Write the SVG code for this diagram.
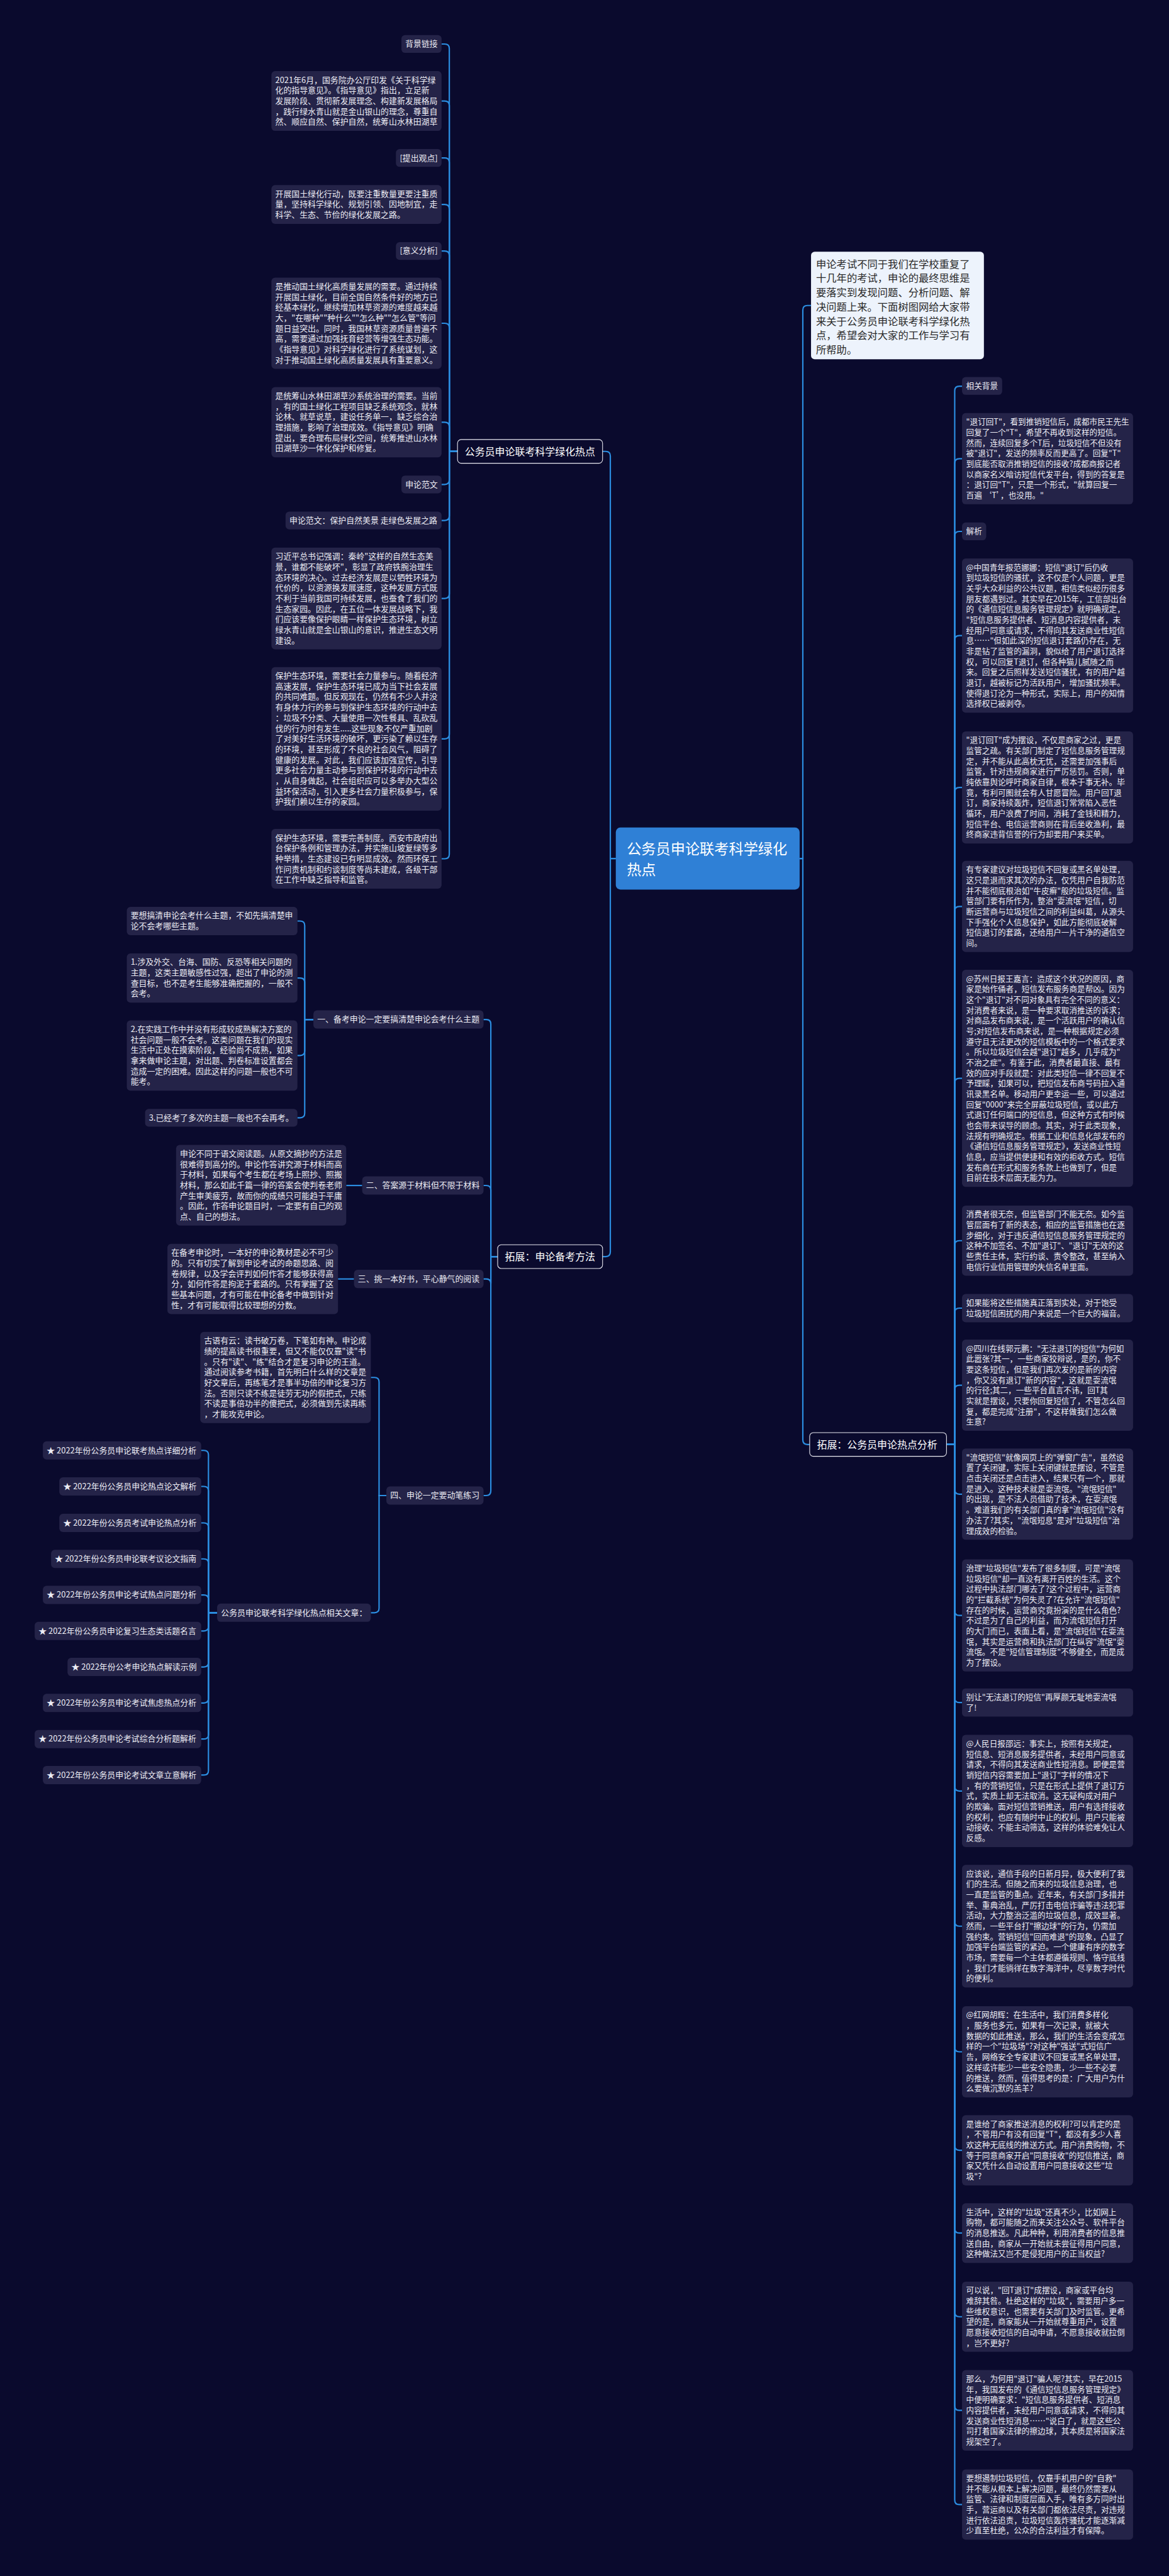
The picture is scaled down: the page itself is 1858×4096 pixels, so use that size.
<svg xmlns="http://www.w3.org/2000/svg" width="1858" height="4096" viewBox="0 0 1858 4096">
<style>
.bg{fill:#0a0a2d}
.bx{fill:#242348}
.t{font-family:"Noto Sans CJK SC","Liberation Sans",sans-serif;font-size:17.8px;fill:#ececf4}
.tr{font-family:"Noto Sans CJK SC","Liberation Sans",sans-serif;font-size:17.4px;fill:#ececf4}
.l1{fill:#0a0a2d;stroke:#e8e8f0;stroke-width:1.5}
.t1{font-family:"Noto Sans CJK SC","Liberation Sans",sans-serif;font-size:22px;fill:#ffffff}
.root{fill:#2f80d6}
.tt{font-family:"Noto Sans CJK SC","Liberation Sans",sans-serif;font-size:32px;fill:#ffffff}
.intro{fill:#edf3fc}
.ti{font-family:"Noto Sans CJK SC","Liberation Sans",sans-serif;font-size:22.5px;fill:#2a2a2a}
.ln{fill:none;stroke:#2b8de0;stroke-width:3}
</style>
<rect class="bg" x="0" y="0" width="1858" height="4096"/>
<g transform="scale(0.725)">
<g id="connectors">
<path class="ln" d="M1350 1883 H1338 V1000 Q1338 990 1328 990 H1321"/>
<path class="ln" d="M1350 1883 H1338 V2746 Q1338 2756 1328 2756 H1321"/>
<path class="ln" d="M1753 1883 H1760 V680 Q1760 670 1770 670 H1778"/>
<path class="ln" d="M1753 1883 H1760 V3158 Q1760 3168 1770 3168 H1775"/>
<path class="ln" d="M1003 990 H985 V106.5 Q985 96.5 975 96.5 H968"/>
<path class="ln" d="M1003 990 H985 V231.5 Q985 221.5 975 221.5 H968"/>
<path class="ln" d="M1003 990 H985 V356.5 Q985 346.5 975 346.5 H968"/>
<path class="ln" d="M1003 990 H985 V458.5 Q985 448.5 975 448.5 H968"/>
<path class="ln" d="M1003 990 H985 V560.5 Q985 550.5 975 550.5 H968"/>
<path class="ln" d="M1003 990 H985 V719 Q985 709 975 709 H968"/>
<path class="ln" d="M1003 990 H985 V936 Q985 926 975 926 H968"/>
<path class="ln" d="M1003 990 H985 V1052.5 Q985 1062.5 975 1062.5 H968"/>
<path class="ln" d="M1003 990 H985 V1131.5 Q985 1141.5 975 1141.5 H968"/>
<path class="ln" d="M1003 990 H985 V1302.5 Q985 1312.5 975 1312.5 H968"/>
<path class="ln" d="M1003 990 H985 V1610.5 Q985 1620.5 975 1620.5 H968"/>
<path class="ln" d="M1003 990 H985 V1873.5 Q985 1883.5 975 1883.5 H968"/>
<path class="ln" d="M1091 2756 H1076 V2246 Q1076 2236 1066 2236 H1060"/>
<path class="ln" d="M1091 2756 H1076 V2610 Q1076 2600 1066 2600 H1060"/>
<path class="ln" d="M1091 2756 H1076 V2815 Q1076 2805 1066 2805 H1060"/>
<path class="ln" d="M1091 2756 H1076 V3270 Q1076 3280 1066 3280 H1060"/>
<path class="ln" d="M687 2236 H668 V2030 Q668 2020 658 2020 H652"/>
<path class="ln" d="M687 2236 H668 V2155 Q668 2145 658 2145 H652"/>
<path class="ln" d="M687 2236 H668 V2305 Q668 2315 658 2315 H652"/>
<path class="ln" d="M687 2236 H668 V2441.5 Q668 2451.5 658 2451.5 H652"/>
<path class="ln" d="M794 2600 H759"/>
<path class="ln" d="M776 2805 H741"/>
<path class="ln" d="M847 3280 H831 V3031 Q831 3021 821 3021 H813"/>
<path class="ln" d="M847 3280 H831 V3527 Q831 3537 821 3537 H813"/>
<path class="ln" d="M476 3537 H457 V3191 Q457 3181 447 3181 H441"/>
<path class="ln" d="M476 3537 H457 V3270 Q457 3260 447 3260 H441"/>
<path class="ln" d="M476 3537 H457 V3350 Q457 3340 447 3340 H441"/>
<path class="ln" d="M476 3537 H457 V3429 Q457 3419 447 3419 H441"/>
<path class="ln" d="M476 3537 H457 V3508 Q457 3498 447 3498 H441"/>
<path class="ln" d="M476 3537 H457 V3567 Q457 3577 447 3577 H441"/>
<path class="ln" d="M476 3537 H457 V3646 Q457 3656 447 3656 H441"/>
<path class="ln" d="M476 3537 H457 V3725 Q457 3735 447 3735 H441"/>
<path class="ln" d="M476 3537 H457 V3804 Q457 3814 447 3814 H441"/>
<path class="ln" d="M476 3537 H457 V3883 Q457 3893 447 3893 H441"/>
<path class="ln" d="M2075 3168 H2093 V857 Q2093 847 2103 847 H2109"/>
<path class="ln" d="M2075 3168 H2093 V1016 Q2093 1006 2103 1006 H2109"/>
<path class="ln" d="M2075 3168 H2093 V1175.5 Q2093 1165.5 2103 1165.5 H2109"/>
<path class="ln" d="M2075 3168 H2093 V1404 Q2093 1394 2103 1394 H2109"/>
<path class="ln" d="M2075 3168 H2093 V1737 Q2093 1727 2103 1727 H2109"/>
<path class="ln" d="M2075 3168 H2093 V1998 Q2093 1988 2103 1988 H2109"/>
<path class="ln" d="M2075 3168 H2093 V2375 Q2093 2365 2103 2365 H2109"/>
<path class="ln" d="M2075 3168 H2093 V2731 Q2093 2721 2103 2721 H2109"/>
<path class="ln" d="M2075 3168 H2093 V2879 Q2093 2869 2103 2869 H2109"/>
<path class="ln" d="M2075 3168 H2093 V3048 Q2093 3038 2103 3038 H2109"/>
<path class="ln" d="M2075 3168 H2093 V3267 Q2093 3277 2103 3277 H2109"/>
<path class="ln" d="M2075 3168 H2093 V3533 Q2093 3543 2103 3543 H2109"/>
<path class="ln" d="M2075 3168 H2093 V3724 Q2093 3734 2103 3734 H2109"/>
<path class="ln" d="M2075 3168 H2093 V3918 Q2093 3928 2103 3928 H2109"/>
<path class="ln" d="M2075 3168 H2093 V4214.5 Q2093 4224.5 2103 4224.5 H2109"/>
<path class="ln" d="M2075 3168 H2093 V4490 Q2093 4500 2103 4500 H2109"/>
<path class="ln" d="M2075 3168 H2093 V4706 Q2093 4716 2103 4716 H2109"/>
<path class="ln" d="M2075 3168 H2093 V4887.5 Q2093 4897.5 2103 4897.5 H2109"/>
<path class="ln" d="M2075 3168 H2093 V5071 Q2093 5081 2103 5081 H2109"/>
<path class="ln" d="M2075 3168 H2093 V5276.5 Q2093 5286.5 2103 5286.5 H2109"/>
<path class="ln" d="M2075 3168 H2093 V5483 Q2093 5493 2103 5493 H2109"/>
</g>

<g id="root">
<rect class="root" x="1350" y="1815" width="403" height="136" rx="10"/>
<text class="tt"><tspan x="1374" y="1873">公务员申论联考科学绿化</tspan><tspan x="1374" y="1919">热点</tspan></text>
</g>

<g id="n-left1">
<rect class="l1" x="1003" y="964" width="318" height="52" rx="8"/>
<text class="t1" x="1019" y="998">公务员申论联考科学绿化热点</text>
</g>
<g id="n-left2">
<rect class="l1" x="1091" y="2730" width="230" height="52" rx="8"/>
<text class="t1" x="1107" y="2764">拓展：申论备考方法</text>
</g>
<g id="n-right1">
<rect class="intro" x="1778" y="552" width="379" height="236" rx="8"/>
<text class="ti"><tspan x="1789" y="587">申论考试不同于我们在学校重复了</tspan><tspan x="1789" y="618.4">十几年的考试，申论的最终思维是</tspan><tspan x="1789" y="649.8">要落实到发现问题、分析问题、解</tspan><tspan x="1789" y="681.2">决问题上来。下面树图网给大家带</tspan><tspan x="1789" y="712.6">来关于公务员申论联考科学绿化热</tspan><tspan x="1789" y="744">点，希望会对大家的工作与学习有</tspan><tspan x="1789" y="775.4">所帮助。</tspan></text>
</g>
<g id="n-right2">
<rect class="l1" x="1775" y="3142" width="300" height="52" rx="8"/>
<text class="t1" x="1791" y="3176">拓展：公务员申论热点分析</text>
</g>

<g id="g1-1"><rect class="bx" x="880" y="77" width="88" height="39" rx="8"/><text class="t" x="888.5" y="102.5">背景链接</text></g>
<g id="g1-2"><rect class="bx" x="595" y="156" width="373" height="131" rx="8"/><text class="t"><tspan x="603.5" y="181.5">2021年6月，国务院办公厅印发《关于科学绿</tspan><tspan x="603.5" y="204.5">化的指导意见》。《指导意见》指出，立足新</tspan><tspan x="603.5" y="227.5">发展阶段、贯彻新发展理念、构建新发展格局</tspan><tspan x="603.5" y="250.5">，践行绿水青山就是金山银山的理念，尊重自</tspan><tspan x="603.5" y="273.5">然、顺应自然、保护自然，统筹山水林田湖草</tspan></text></g>
<g id="g1-3"><rect class="bx" x="868" y="327" width="100" height="39" rx="8"/><text class="t" x="876.5" y="352.5">[提出观点]</text></g>
<g id="g1-4"><rect class="bx" x="595" y="406" width="373" height="85" rx="8"/><text class="t"><tspan x="603.5" y="431.5">开展国土绿化行动，既要注重数量更要注重质</tspan><tspan x="603.5" y="454.5">量，坚持科学绿化、规划引领、因地制宜，走</tspan><tspan x="603.5" y="477.5">科学、生态、节俭的绿化发展之路。</tspan></text></g>
<g id="g1-5"><rect class="bx" x="868" y="531" width="100" height="39" rx="8"/><text class="t" x="876.5" y="556.5">[意义分析]</text></g>
<g id="g1-6"><rect class="bx" x="595" y="609" width="373" height="200" rx="8"/><text class="t"><tspan x="603.5" y="634.5">是推动国土绿化高质量发展的需要。通过持续</tspan><tspan x="603.5" y="657.5">开展国土绿化，目前全国自然条件好的地方已</tspan><tspan x="603.5" y="680.5">经基本绿化，继续增加林草资源的难度越来越</tspan><tspan x="603.5" y="703.5">大，"在哪种""种什么""怎么种""怎么管"等问</tspan><tspan x="603.5" y="726.5">题日益突出。同时，我国林草资源质量普遍不</tspan><tspan x="603.5" y="749.5">高，需要通过加强抚育经营等增强生态功能。</tspan><tspan x="603.5" y="772.5">《指导意见》对科学绿化进行了系统谋划，这</tspan><tspan x="603.5" y="795.5">对于推动国土绿化高质量发展具有重要意义。</tspan></text></g>
<g id="g1-7"><rect class="bx" x="595" y="849" width="373" height="154" rx="8"/><text class="t"><tspan x="603.5" y="874.5">是统筹山水林田湖草沙系统治理的需要。当前</tspan><tspan x="603.5" y="897.5">，有的国土绿化工程项目缺乏系统观念，就林</tspan><tspan x="603.5" y="920.5">论林、就草说草，建设任务单一，缺乏综合治</tspan><tspan x="603.5" y="943.5">理措施，影响了治理成效。《指导意见》明确</tspan><tspan x="603.5" y="966.5">提出，要合理布局绿化空间，统筹推进山水林</tspan><tspan x="603.5" y="989.5">田湖草沙一体化保护和修复。</tspan></text></g>
<g id="g1-8"><rect class="bx" x="880" y="1043" width="88" height="39" rx="8"/><text class="t" x="888.5" y="1068.5">申论范文</text></g>
<g id="g1-9"><rect class="bx" x="626" y="1122" width="342" height="39" rx="8"/><text class="t" x="634.5" y="1147.5">申论范文：保护自然美景 走绿色发展之路</text></g>
<g id="g1-10"><rect class="bx" x="595" y="1201" width="373" height="223" rx="8"/><text class="t"><tspan x="603.5" y="1226.5">习近平总书记强调：秦岭"这样的自然生态美</tspan><tspan x="603.5" y="1249.5">景，谁都不能破坏"，彰显了政府铁腕治理生</tspan><tspan x="603.5" y="1272.5">态环境的决心。过去经济发展是以牺牲环境为</tspan><tspan x="603.5" y="1295.5">代价的，以资源换发展速度，这种发展方式既</tspan><tspan x="603.5" y="1318.5">不利于当前我国可持续发展，也蚕食了我们的</tspan><tspan x="603.5" y="1341.5">生态家园。因此，在五位一体发展战略下，我</tspan><tspan x="603.5" y="1364.5">们应该要像保护眼睛一样保护生态环境，树立</tspan><tspan x="603.5" y="1387.5">绿水青山就是金山银山的意识，推进生态文明</tspan><tspan x="603.5" y="1410.5">建设。</tspan></text></g>
<g id="g1-11"><rect class="bx" x="595" y="1463" width="373" height="315" rx="8"/><text class="t"><tspan x="603.5" y="1488.5">保护生态环境，需要社会力量参与。随着经济</tspan><tspan x="603.5" y="1511.5">高速发展，保护生态环境已成为当下社会发展</tspan><tspan x="603.5" y="1534.5">的共同难题。但反观现在，仍然有不少人并没</tspan><tspan x="603.5" y="1557.5">有身体力行的参与到保护生态环境的行动中去</tspan><tspan x="603.5" y="1580.5">：垃圾不分类、大量使用一次性餐具、乱砍乱</tspan><tspan x="603.5" y="1603.5">伐的行为时有发生.....这些现象不仅严重加剧</tspan><tspan x="603.5" y="1626.5">了对美好生活环境的破坏，更污染了赖以生存</tspan><tspan x="603.5" y="1649.5">的环境，甚至形成了不良的社会风气，阻碍了</tspan><tspan x="603.5" y="1672.5">健康的发展。对此，我们应该加强宣传，引导</tspan><tspan x="603.5" y="1695.5">更多社会力量主动参与到保护环境的行动中去</tspan><tspan x="603.5" y="1718.5">，从自身做起，社会组织应可以多举办大型公</tspan><tspan x="603.5" y="1741.5">益环保活动，引入更多社会力量积极参与，保</tspan><tspan x="603.5" y="1764.5">护我们赖以生存的家园。</tspan></text></g>
<g id="g1-12"><rect class="bx" x="595" y="1818" width="373" height="131" rx="8"/><text class="t"><tspan x="603.5" y="1843.5">保护生态环境，需要完善制度。西安市政府出</tspan><tspan x="603.5" y="1866.5">台保护条例和管理办法，并实施山坡复绿等多</tspan><tspan x="603.5" y="1889.5">种举措，生态建设已有明显成效。然而环保工</tspan><tspan x="603.5" y="1912.5">作问责机制和约谈制度等尚未建成，各级干部</tspan><tspan x="603.5" y="1935.5">在工作中缺乏指导和监管。</tspan></text></g>

<g id="b1"><rect class="bx" x="687" y="2216" width="373" height="40" rx="8"/><text class="t" x="695.5" y="2242">一、备考申论一定要搞清楚申论会考什么主题</text></g>
<g id="b1-1"><rect class="bx" x="278" y="1989" width="374" height="62" rx="8"/><text class="t"><tspan x="286.5" y="2014.5">要想搞清申论会考什么主题，不如先搞清楚申</tspan><tspan x="286.5" y="2037.5">论不会考哪些主题。</tspan></text></g>
<g id="b1-2"><rect class="bx" x="278" y="2091" width="374" height="108" rx="8"/><text class="t"><tspan x="286.5" y="2116.5">1.涉及外交、台海、国防、反恐等相关问题的</tspan><tspan x="286.5" y="2139.5">主题，这类主题敏感性过强，超出了申论的测</tspan><tspan x="286.5" y="2162.5">查目标，也不是考生能够准确把握的，一般不</tspan><tspan x="286.5" y="2185.5">会考。</tspan></text></g>
<g id="b1-3"><rect class="bx" x="278" y="2238" width="374" height="154" rx="8"/><text class="t"><tspan x="286.5" y="2263.5">2.在实践工作中并没有形成较成熟解决方案的</tspan><tspan x="286.5" y="2286.5">社会问题一般不会考。这类问题在我们的现实</tspan><tspan x="286.5" y="2309.5">生活中正处在摸索阶段，经验尚不成熟，如果</tspan><tspan x="286.5" y="2332.5">拿来做申论主题，对出题、判卷标准设置都会</tspan><tspan x="286.5" y="2355.5">造成一定的困难。因此这样的问题一般也不可</tspan><tspan x="286.5" y="2378.5">能考。</tspan></text></g>
<g id="b1-4"><rect class="bx" x="318" y="2432" width="334" height="39" rx="8"/><text class="t" x="326.5" y="2457.5">3.已经考了多次的主题一般也不会再考。</text></g>
<g id="b2"><rect class="bx" x="794" y="2580" width="266" height="40" rx="8"/><text class="t" x="802.5" y="2606">二、答案源于材料但不限于材料</text></g>
<g id="b2-1"><rect class="bx" x="386" y="2511" width="373" height="177" rx="8"/><text class="t"><tspan x="394.5" y="2536.5">申论不同于语文阅读题。从原文摘抄的方法是</tspan><tspan x="394.5" y="2559.5">很难得到高分的。申论作答讲究源于材料而高</tspan><tspan x="394.5" y="2582.5">于材料，如果每个考生都在考场上照抄、照搬</tspan><tspan x="394.5" y="2605.5">材料，那么如此千篇一律的答案会使判卷老师</tspan><tspan x="394.5" y="2628.5">产生审美疲劳，故而你的成绩只可能趋于平庸</tspan><tspan x="394.5" y="2651.5">。因此，作答申论题目时，一定要有自己的观</tspan><tspan x="394.5" y="2674.5">点、自己的想法。</tspan></text></g>
<g id="b3"><rect class="bx" x="776" y="2785" width="284" height="40" rx="8"/><text class="t" x="784.5" y="2811">三、挑一本好书，平心静气的阅读</text></g>
<g id="b3-1"><rect class="bx" x="367" y="2728" width="374" height="154" rx="8"/><text class="t"><tspan x="375.5" y="2753.5">在备考申论时，一本好的申论教材是必不可少</tspan><tspan x="375.5" y="2776.5">的。只有切实了解到申论考试的命题思路、阅</tspan><tspan x="375.5" y="2799.5">卷规律，以及学会评判如何作答才能够获得高</tspan><tspan x="375.5" y="2822.5">分，如何作答是拘泥于套路的。只有掌握了这</tspan><tspan x="375.5" y="2845.5">些基本问题，才有可能在申论备考中做到针对</tspan><tspan x="375.5" y="2868.5">性，才有可能取得比较理想的分数。</tspan></text></g>
<g id="b4"><rect class="bx" x="847" y="3260" width="213" height="40" rx="8"/><text class="t" x="855.5" y="3286">四、申论一定要动笔练习</text></g>
<g id="b4-1"><rect class="bx" x="439" y="2921" width="374" height="200" rx="8"/><text class="t"><tspan x="447.5" y="2946.5">古语有云：读书破万卷，下笔如有神。申论成</tspan><tspan x="447.5" y="2969.5">绩的提高读书很重要，但又不能仅仅靠"读"书</tspan><tspan x="447.5" y="2992.5">。只有"读"、"练"结合才是复习申论的王道。</tspan><tspan x="447.5" y="3015.5">通过阅读参考书籍，首先明白什么样的文章是</tspan><tspan x="447.5" y="3038.5">好文章后，再练笔才是事半功倍的申论复习方</tspan><tspan x="447.5" y="3061.5">法。否则只读不练是徒劳无功的假把式，只练</tspan><tspan x="447.5" y="3084.5">不读是事倍功半的傻把式，必须做到先读再练</tspan><tspan x="447.5" y="3107.5">，才能攻克申论。</tspan></text></g>
<g id="b4-2"><rect class="bx" x="476" y="3517" width="337" height="40" rx="8"/><text class="t" x="484.5" y="3543">公务员申论联考科学绿化热点相关文章：</text></g>
<g id="list">
<g id="li1"><rect class="bx" x="94" y="3161" width="347" height="40" rx="8"/><text class="t" x="102.5" y="3187">★ 2022年份公务员申论联考热点详细分析</text></g>
<g id="li2"><rect class="bx" x="130" y="3240" width="311" height="40" rx="8"/><text class="t" x="138.5" y="3266">★ 2022年份公务员申论热点论文解析</text></g>
<g id="li3"><rect class="bx" x="130" y="3320" width="311" height="40" rx="8"/><text class="t" x="138.5" y="3346">★ 2022年份公务员考试申论热点分析</text></g>
<g id="li4"><rect class="bx" x="112" y="3399" width="329" height="40" rx="8"/><text class="t" x="120.5" y="3425">★ 2022年份公务员申论联考议论文指南</text></g>
<g id="li5"><rect class="bx" x="94" y="3478" width="347" height="40" rx="8"/><text class="t" x="102.5" y="3504">★ 2022年份公务员申论考试热点问题分析</text></g>
<g id="li6"><rect class="bx" x="76" y="3557" width="365" height="40" rx="8"/><text class="t" x="84.5" y="3583">★ 2022年份公务员申论复习生态类话题名言</text></g>
<g id="li7"><rect class="bx" x="148" y="3636" width="293" height="40" rx="8"/><text class="t" x="156.5" y="3662">★ 2022年份公考申论热点解读示例</text></g>
<g id="li8"><rect class="bx" x="94" y="3715" width="347" height="40" rx="8"/><text class="t" x="102.5" y="3741">★ 2022年份公务员申论考试焦虑热点分析</text></g>
<g id="li9"><rect class="bx" x="76" y="3794" width="365" height="40" rx="8"/><text class="t" x="84.5" y="3820">★ 2022年份公务员申论考试综合分析题解析</text></g>
<g id="li10"><rect class="bx" x="94" y="3873" width="347" height="40" rx="8"/><text class="t" x="102.5" y="3899">★ 2022年份公务员申论考试文章立意解析</text></g>
</g>

<g id="r1"><rect class="bx" x="2109" y="827" width="88" height="39" rx="8"/><text class="tr" x="2118" y="852.5">相关背景</text></g>
<g id="r2"><rect class="bx" x="2109" y="906" width="375" height="200" rx="8"/><text class="tr"><tspan x="2118" y="931.5">"退订回T"，看到推销短信后，成都市民王先生</tspan><tspan x="2118" y="954.5">回复了一个"T"，希望不再收到这样的短信。</tspan><tspan x="2118" y="977.5">然而，连续回复多个T后，垃圾短信不但没有</tspan><tspan x="2118" y="1000.5">被"退订"，发送的频率反而更高了。回复"T"</tspan><tspan x="2118" y="1023.5">到底能否取消推销短信的接收?成都商报记者</tspan><tspan x="2118" y="1046.5">以商家名义暗访短信代发平台，得到的答复是</tspan><tspan x="2118" y="1069.5">：退订回"T"，只是一个形式，"就算回复一</tspan><tspan x="2118" y="1092.5">百遍 ‘T’，也没用。"</tspan></text></g>
<g id="r3"><rect class="bx" x="2109" y="1146" width="53" height="39" rx="8"/><text class="tr" x="2118" y="1171.5">解析</text></g>
<g id="r4"><rect class="bx" x="2109" y="1225" width="375" height="338" rx="8"/><text class="tr"><tspan x="2118" y="1250.5">@中国青年报范娜娜：短信"退订"后仍收</tspan><tspan x="2118" y="1273.5">到垃圾短信的骚扰，这不仅是个人问题，更是</tspan><tspan x="2118" y="1296.5">关乎大众利益的公共议题，相信类似经历很多</tspan><tspan x="2118" y="1319.5">朋友都遇到过。其实早在2015年，工信部出台</tspan><tspan x="2118" y="1342.5">的《通信短信息服务管理规定》就明确规定，</tspan><tspan x="2118" y="1365.5">"短信息服务提供者、短消息内容提供者，未</tspan><tspan x="2118" y="1388.5">经用户同意或请求，不得向其发送商业性短信</tspan><tspan x="2118" y="1411.5">息……"但如此深的短信退订套路仍存在，无</tspan><tspan x="2118" y="1434.5">非是钻了监管的漏洞，貌似给了用户退订选择</tspan><tspan x="2118" y="1457.5">权，可以回复T退订，但各种猫儿腻随之而</tspan><tspan x="2118" y="1480.5">来。回复之后照样发送短信骚扰，有的用户越</tspan><tspan x="2118" y="1503.5">退订，越被标记为活跃用户，增加骚扰频率。</tspan><tspan x="2118" y="1526.5">使得退订沦为一种形式，实际上，用户的知情</tspan><tspan x="2118" y="1549.5">选择权已被剥夺。</tspan></text></g>
<g id="r5"><rect class="bx" x="2109" y="1604" width="375" height="246" rx="8"/><text class="tr"><tspan x="2118" y="1629.5">"退订回T"成为摆设，不仅是商家之过，更是</tspan><tspan x="2118" y="1652.5">监管之疏。有关部门制定了短信息服务管理规</tspan><tspan x="2118" y="1675.5">定，并不能从此高枕无忧，还需要加强事后</tspan><tspan x="2118" y="1698.5">监管，针对违规商家进行严厉惩罚。否则，单</tspan><tspan x="2118" y="1721.5">纯依靠舆论呼吁商家自律，根本于事无补。毕</tspan><tspan x="2118" y="1744.5">竟，有利可图就会有人甘愿冒险。用户回T退</tspan><tspan x="2118" y="1767.5">订，商家持续轰炸，短信退订常常陷入恶性</tspan><tspan x="2118" y="1790.5">循环，用户浪费了时间，消耗了金钱和精力，</tspan><tspan x="2118" y="1813.5">短信平台、电信运营商则在背后坐收渔利，最</tspan><tspan x="2118" y="1836.5">终商家违背信誉的行为却要用户来买单。</tspan></text></g>
<g id="r6"><rect class="bx" x="2109" y="1888" width="375" height="200" rx="8"/><text class="tr"><tspan x="2118" y="1913.5">有专家建议对垃圾短信不回复或黑名单处理，</tspan><tspan x="2118" y="1936.5">这只是退而求其次的办法，仅凭用户自我防范</tspan><tspan x="2118" y="1959.5">并不能彻底根治如"牛皮癣"般的垃圾短信。监</tspan><tspan x="2118" y="1982.5">管部门要有所作为，整治"耍流氓"短信，切</tspan><tspan x="2118" y="2005.5">断运营商与垃圾短信之间的利益纠葛，从源头</tspan><tspan x="2118" y="2028.5">下手强化个人信息保护，如此方能彻底破解</tspan><tspan x="2118" y="2051.5">短信退订的套路，还给用户一片干净的通信空</tspan><tspan x="2118" y="2074.5">间。</tspan></text></g>
<g id="r7"><rect class="bx" x="2109" y="2127" width="375" height="476" rx="8"/><text class="tr"><tspan x="2118" y="2152.5">@苏州日报王嘉言：造成这个状况的原因，商</tspan><tspan x="2118" y="2175.5">家是始作俑者，短信发布服务商是帮凶。因为</tspan><tspan x="2118" y="2198.5">这个"退订"对不同对象具有完全不同的意义：</tspan><tspan x="2118" y="2221.5">对消费者来说，是一种要求取消推送的诉求；</tspan><tspan x="2118" y="2244.5">对商品发布商来说，是一个活跃用户的确认信</tspan><tspan x="2118" y="2267.5">号;对短信发布商来说，是一种根据规定必须</tspan><tspan x="2118" y="2290.5">遵守且无法更改的短信模板中的一个格式要求</tspan><tspan x="2118" y="2313.5">。所以垃圾短信会越"退订"越多，几乎成为"</tspan><tspan x="2118" y="2336.5">不治之症"。有鉴于此，消费者最直接、最有</tspan><tspan x="2118" y="2359.5">效的应对手段就是：对此类短信一律不回复不</tspan><tspan x="2118" y="2382.5">予理睬，如果可以，把短信发布商号码拉入通</tspan><tspan x="2118" y="2405.5">讯录黑名单。移动用户更幸运一些，可以通过</tspan><tspan x="2118" y="2428.5">回复"0000"来完全屏蔽垃圾短信，或以此方</tspan><tspan x="2118" y="2451.5">式退订任何端口的短信息，但这种方式有时候</tspan><tspan x="2118" y="2474.5">也会带来误导的顾虑。其实，对于此类现象，</tspan><tspan x="2118" y="2497.5">法规有明确规定。根据工业和信息化部发布的</tspan><tspan x="2118" y="2520.5">《通信短信息服务管理规定》，发送商业性短</tspan><tspan x="2118" y="2543.5">信息，应当提供便捷和有效的拒收方式。短信</tspan><tspan x="2118" y="2566.5">发布商在形式和服务条款上也做到了，但是</tspan><tspan x="2118" y="2589.5">目前在技术层面无能为力。</tspan></text></g>
<g id="r8"><rect class="bx" x="2109" y="2644" width="375" height="154" rx="8"/><text class="tr"><tspan x="2118" y="2669.5">消费者很无奈，但监管部门不能无奈。如今监</tspan><tspan x="2118" y="2692.5">管层面有了新的表态，相应的监管措施也在逐</tspan><tspan x="2118" y="2715.5">步细化，对于违反通信短信息服务管理规定的</tspan><tspan x="2118" y="2738.5">这种不加签名、不加"退订"、"退订"无效的这</tspan><tspan x="2118" y="2761.5">些责任主体，实行约谈、责令整改，甚至纳入</tspan><tspan x="2118" y="2784.5">电信行业信用管理的失信名单里面。</tspan></text></g>
<g id="r9"><rect class="bx" x="2109" y="2838" width="375" height="62" rx="8"/><text class="tr"><tspan x="2118" y="2863.5">如果能将这些措施真正落到实处，对于饱受</tspan><tspan x="2118" y="2886.5">垃圾短信困扰的用户来说是一个巨大的福音。</tspan></text></g>
<g id="r10"><rect class="bx" x="2109" y="2938" width="375" height="200" rx="8"/><text class="tr"><tspan x="2118" y="2963.5">@四川在线郭元鹏："无法退订的短信"为何如</tspan><tspan x="2118" y="2986.5">此嚣张?其一，一些商家狡辩说，是的，你不</tspan><tspan x="2118" y="3009.5">要这条短信，但是我们再次发的是新的内容</tspan><tspan x="2118" y="3032.5">，你又没有退订"新的内容"，这就是耍流氓</tspan><tspan x="2118" y="3055.5">的行径;其二，一些平台直言不讳，回T其</tspan><tspan x="2118" y="3078.5">实就是摆设，只要你回复短信了，不管怎么回</tspan><tspan x="2118" y="3101.5">复，都是完成"注册"，不这样做我们怎么做</tspan><tspan x="2118" y="3124.5">生意?</tspan></text></g>
<g id="r11"><rect class="bx" x="2109" y="3177" width="375" height="200" rx="8"/><text class="tr"><tspan x="2118" y="3202.5">"流氓短信"就像网页上的"弹窗广告"，虽然设</tspan><tspan x="2118" y="3225.5">置了关闭键，实际上关闭键就是摆设，不管是</tspan><tspan x="2118" y="3248.5">点击关闭还是点击进入，结果只有一个，那就</tspan><tspan x="2118" y="3271.5">是进入。这种技术就是耍流氓。"流氓短信"</tspan><tspan x="2118" y="3294.5">的出现，是不法人员借助了技术，在耍流氓</tspan><tspan x="2118" y="3317.5">。难道我们的有关部门真的拿"流氓短信"没有</tspan><tspan x="2118" y="3340.5">办法了?其实，"流氓短息"是对"垃圾短信"治</tspan><tspan x="2118" y="3363.5">理成效的检验。</tspan></text></g>
<g id="r12"><rect class="bx" x="2109" y="3420" width="375" height="246" rx="8"/><text class="tr"><tspan x="2118" y="3445.5">治理"垃圾短信"发布了很多制度，可是"流氓</tspan><tspan x="2118" y="3468.5">垃圾短信"却一直没有离开百姓的生活。这个</tspan><tspan x="2118" y="3491.5">过程中执法部门哪去了?这个过程中，运营商</tspan><tspan x="2118" y="3514.5">的"拦截系统"为何失灵了?在允许"流氓短信"</tspan><tspan x="2118" y="3537.5">存在的时候，运营商究竟扮演的是什么角色?</tspan><tspan x="2118" y="3560.5">不过是为了自己的利益，而为流氓短信打开</tspan><tspan x="2118" y="3583.5">的大门而已，表面上看，是"流氓短信"在耍流</tspan><tspan x="2118" y="3606.5">氓，其实是运营商和执法部门在纵容"流氓"耍</tspan><tspan x="2118" y="3629.5">流氓。不是"短信管理制度"不够健全，而是成</tspan><tspan x="2118" y="3652.5">为了摆设。</tspan></text></g>
<g id="r13"><rect class="bx" x="2109" y="3703" width="375" height="62" rx="8"/><text class="tr"><tspan x="2118" y="3728.5">别让"无法退订的短信"再厚颜无耻地耍流氓</tspan><tspan x="2118" y="3751.5">了!</tspan></text></g>
<g id="r14"><rect class="bx" x="2109" y="3805" width="375" height="246" rx="8"/><text class="tr"><tspan x="2118" y="3830.5">@人民日报邵远：事实上，按照有关规定，</tspan><tspan x="2118" y="3853.5">短信息、短消息服务提供者，未经用户同意或</tspan><tspan x="2118" y="3876.5">请求，不得向其发送商业性短消息。即便是营</tspan><tspan x="2118" y="3899.5">销短信内容需要加上"退订"字样的情况下</tspan><tspan x="2118" y="3922.5">，有的营销短信，只是在形式上提供了退订方</tspan><tspan x="2118" y="3945.5">式，实质上却无法取消。这无疑构成对用户</tspan><tspan x="2118" y="3968.5">的欺骗。面对短信营销推送，用户有选择接收</tspan><tspan x="2118" y="3991.5">的权利，也应有随时中止的权利。用户只能被</tspan><tspan x="2118" y="4014.5">动接收、不能主动筛选，这样的体验难免让人</tspan><tspan x="2118" y="4037.5">反感。</tspan></text></g>
<g id="r15"><rect class="bx" x="2109" y="4090" width="375" height="269" rx="8"/><text class="tr"><tspan x="2118" y="4115.5">应该说，通信手段的日新月异，极大便利了我</tspan><tspan x="2118" y="4138.5">们的生活。但随之而来的垃圾信息治理，也</tspan><tspan x="2118" y="4161.5">一直是监管的重点。近年来，有关部门多措并</tspan><tspan x="2118" y="4184.5">举、重典治乱，严厉打击电信诈骗等违法犯罪</tspan><tspan x="2118" y="4207.5">活动，大力整治泛滥的垃圾信息，成效显著。</tspan><tspan x="2118" y="4230.5">然而，一些平台打"擦边球"的行为，仍需加</tspan><tspan x="2118" y="4253.5">强约束。营销短信"回而难退"的现象，凸显了</tspan><tspan x="2118" y="4276.5">加强平台端监管的紧迫。一个健康有序的数字</tspan><tspan x="2118" y="4299.5">市场，需要每一个主体都遵循规则、恪守底线</tspan><tspan x="2118" y="4322.5">，我们才能徜徉在数字海洋中，尽享数字时代</tspan><tspan x="2118" y="4345.5">的便利。</tspan></text></g>
<g id="r16"><rect class="bx" x="2109" y="4400" width="375" height="200" rx="8"/><text class="tr"><tspan x="2118" y="4425.5">@红网胡辉：在生活中，我们消费多样化</tspan><tspan x="2118" y="4448.5">，服务也多元，如果有一次记录，就被大</tspan><tspan x="2118" y="4471.5">数据的如此推送，那么，我们的生活会变成怎</tspan><tspan x="2118" y="4494.5">样的一个"垃圾场"?对这种"强送"式短信广</tspan><tspan x="2118" y="4517.5">告，网络安全专家建议不回复或黑名单处理，</tspan><tspan x="2118" y="4540.5">这样或许能少一些安全隐患，少一些不必要</tspan><tspan x="2118" y="4563.5">的推送，然而，值得思考的是：广大用户为什</tspan><tspan x="2118" y="4586.5">么要做沉默的羔羊?</tspan></text></g>
<g id="r17"><rect class="bx" x="2109" y="4639" width="375" height="154" rx="8"/><text class="tr"><tspan x="2118" y="4664.5">是谁给了商家推送消息的权利?可以肯定的是</tspan><tspan x="2118" y="4687.5">，不管用户有没有回复"T"，都没有多少人喜</tspan><tspan x="2118" y="4710.5">欢这种无底线的推送方式。用户消费购物，不</tspan><tspan x="2118" y="4733.5">等于同意商家开启"同意接收"的短信推送，商</tspan><tspan x="2118" y="4756.5">家又凭什么自动设置用户同意接收这些"垃</tspan><tspan x="2118" y="4779.5">圾"?</tspan></text></g>
<g id="r18"><rect class="bx" x="2109" y="4832" width="375" height="131" rx="8"/><text class="tr"><tspan x="2118" y="4857.5">生活中，这样的"垃圾"还真不少，比如网上</tspan><tspan x="2118" y="4880.5">购物，都可能随之而来关注公众号、软件平台</tspan><tspan x="2118" y="4903.5">的消息推送。凡此种种，利用消费者的信息推</tspan><tspan x="2118" y="4926.5">送自由，商家从一开始就未尝征得用户同意，</tspan><tspan x="2118" y="4949.5">这种做法又岂不是侵犯用户的正当权益?</tspan></text></g>
<g id="r19"><rect class="bx" x="2109" y="5004" width="375" height="154" rx="8"/><text class="tr"><tspan x="2118" y="5029.5">可以说，"回T退订"成摆设，商家或平台均</tspan><tspan x="2118" y="5052.5">难辞其咎。杜绝这样的"垃圾"，需要用户多一</tspan><tspan x="2118" y="5075.5">些维权意识，也需要有关部门及时监管。更希</tspan><tspan x="2118" y="5098.5">望的是，商家能从一开始就尊重用户，设置</tspan><tspan x="2118" y="5121.5">愿意接收短信的自动申请，不愿意接收就拉倒</tspan><tspan x="2118" y="5144.5">，岂不更好?</tspan></text></g>
<g id="r20"><rect class="bx" x="2109" y="5198" width="375" height="177" rx="8"/><text class="tr"><tspan x="2118" y="5223.5">那么，为何用"退订"骗人呢?其实，早在2015</tspan><tspan x="2118" y="5246.5">年，我国发布的《通信短信息服务管理规定》</tspan><tspan x="2118" y="5269.5">中便明确要求："短信息服务提供者、短消息</tspan><tspan x="2118" y="5292.5">内容提供者，未经用户同意或请求，不得向其</tspan><tspan x="2118" y="5315.5">发送商业性短消息……"说白了，就是这些公</tspan><tspan x="2118" y="5338.5">司打着国家法律的擦边球，其本质是将国家法</tspan><tspan x="2118" y="5361.5">规架空了。</tspan></text></g>
<g id="r21"><rect class="bx" x="2109" y="5416" width="375" height="154" rx="8"/><text class="tr"><tspan x="2118" y="5441.5">要想遏制垃圾短信，仅靠手机用户的"自救"</tspan><tspan x="2118" y="5464.5">并不能从根本上解决问题，最终仍然需要从</tspan><tspan x="2118" y="5487.5">监管、法律和制度层面入手，唯有多方同时出</tspan><tspan x="2118" y="5510.5">手，营运商以及有关部门都依法尽责，对违规</tspan><tspan x="2118" y="5533.5">进行依法追责，垃圾短信轰炸骚扰才能逐渐减</tspan><tspan x="2118" y="5556.5">少直至杜绝，公众的合法利益才有保障。</tspan></text></g>
</g>
</svg>
